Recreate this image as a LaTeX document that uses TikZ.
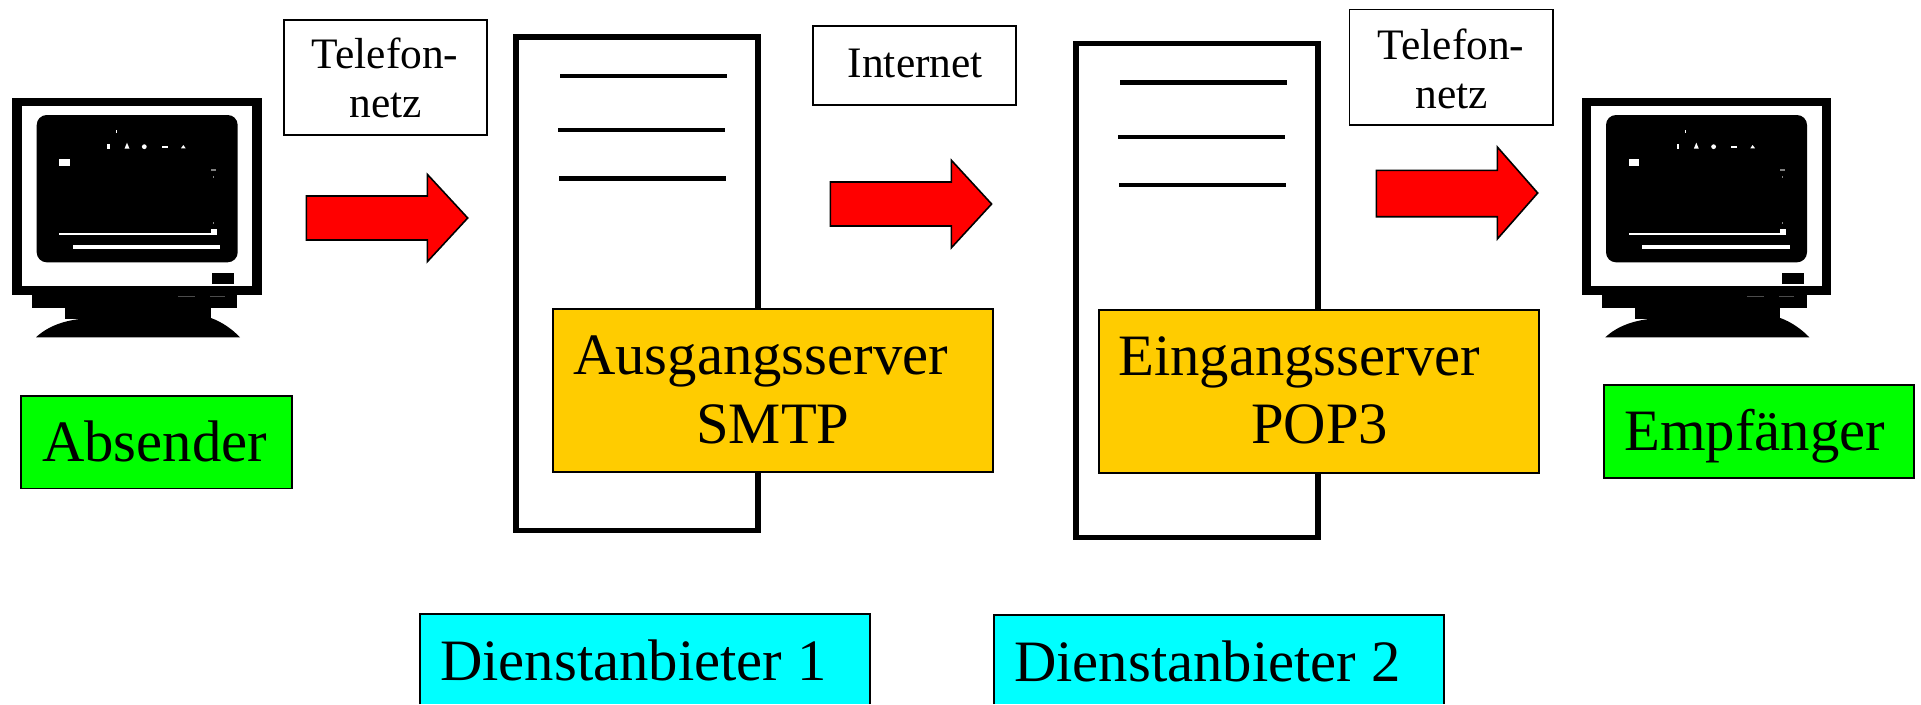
\documentclass[tikz,border=0pt]{standalone}
\usepackage{fontspec}
\setmainfont{Liberation Serif}
\definecolor{srvyellow}{HTML}{FFCC00}
\definecolor{puregreen}{HTML}{00FF00}
\definecolor{purecyan}{HTML}{00FFFF}
\definecolor{purered}{HTML}{FF0000}
\newcommand{\bigtxt}{\fontsize{44}{50}\selectfont}
\newcommand{\smalltxt}{\fontsize{32.6}{38}\selectfont}
\tikzset{
  lbl/.style={inner sep=0pt,anchor=base west,text=black},
  bigl/.style={lbl,font=\bigtxt},
  smalll/.style={lbl,font=\smalltxt},
  thinbox/.style={draw=black,line width=1.4pt,line join=miter},
  notebox/.style={thinbox,fill=white},
  yellowbox/.style={thinbox,fill=srvyellow},
  greenbox/.style={thinbox,fill=puregreen},
  cyanbox/.style={thinbox,fill=purecyan},
  redarrow/.style={draw=black,line width=1.2pt,fill=purered,line join=miter},
  server/.style={draw=black,line width=4.1pt,fill=white,line join=miter},
  serverline/.style={draw=black,line width=3.7pt},
  monitor/.pic={
    \fill[black] (12.3,98.3) rectangle (261.7,295);
    \fill[white] (21.7,106) rectangle (252.3,285.7);
    \fill[black,rounded corners=7.5pt] (36.7,115) rectangle (237.7,262.3);
    \fill[black] (212.3,273.3) rectangle (234.3,284);
    \fill[black] (32.3,295) rectangle (237.3,308.3);
    \fill[black] (65.3,308) rectangle (211,319);
    \fill[black] (36,337.3) .. controls (48,326) and (65,320) .. (85,318.5) -- (211,318) .. controls (222,322) and (232,329) .. (240,337.3) -- cycle;
    \fill[white] (59.3,233) rectangle (211,235.3);
    \fill[white] (211,228.7) rectangle (216.7,235.3);
    \fill[white] (73,245) rectangle (220.3,248.7);
    \fill[white] (59.3,159.3) rectangle (70,166.3);
    \fill[white] (107.3,144) rectangle (110,149);
    \fill[white] (127,142.7) -- (129.5,148.7) -- (124.5,148.7) -- cycle;
    \fill[white] (144.3,146.7) circle[radius=1.8pt];
    \fill[white] (162,145.7) rectangle (167.7,148);
    \fill[white] (183.3,145) -- (185.7,148.3) -- (181,148.3) -- cycle;
    \fill[white] (115.6,130.2) rectangle (116.6,133.2);
    \fill[gray] (211,169) rectangle (216,170.5);
    \fill[gray] (212.8,176) rectangle (213.8,177.5);
    \fill[gray] (212.8,222) rectangle (213.8,223.5);
    \fill[black!70] (178,295.6) rectangle (195,296.2);
    \fill[black!70] (210,295.6) rectangle (225,296.2);
  }
}
\begin{document}
\begin{tikzpicture}[x=0.75pt,y=-0.75pt]
\useasboundingbox (0,0) rectangle (1921,704);
% monitors
\pic at (0,0) {monitor};
\pic at (1569.3,0) {monitor};
% servers
\path[server] (515.8,36.8) rectangle (758.2,530.7);
\path[server] (1075.8,43.5) rectangle (1318.2,537.4);
\draw[serverline] (560.3,76) -- (727,76);
\draw[serverline] (558.3,130) -- (725,130);
\draw[serverline] (559,178.5) -- (725.7,178.5);
\draw[serverline] (1120.3,82.5) -- (1287.2,82.5);
\draw[serverline] (1118.4,137) -- (1285.1,137);
\draw[serverline] (1119.1,185) -- (1286,185);
% note boxes
\path[notebox] (284,19.8) rectangle (487,134.8);
\path[notebox] (812.8,26.2) rectangle (1015.8,105.4);
\path[notebox] (1349.5,9.5) rectangle (1552.8,124.8);
% arrows
\path[redarrow] (306.3,196) -- (427.3,196) -- (427.3,174.3) -- (467.7,218) -- (427.3,261.7) -- (427.3,240) -- (306.3,240) -- cycle;
\path[redarrow] (830.3,182) -- (951.4,182) -- (951.4,160.3) -- (991.6,204) -- (951.4,247.7) -- (951.4,226) -- (830.3,226) -- cycle;
\path[redarrow] (1376.3,170.3) -- (1497.3,170.3) -- (1497.3,147) -- (1537.7,193) -- (1497.3,239) -- (1497.3,216.7) -- (1376.3,216.7) -- cycle;
% coloured boxes
\path[yellowbox] (552.8,308.7) rectangle (993,471.8);
\path[yellowbox] (1098.6,309.7) rectangle (1538.8,472.9);
\path[greenbox] (21.2,395.8) rectangle (292,488.5);
\path[greenbox] (1603.6,384.6) rectangle (1914,477.8);
\path[cyanbox] (420,704) -- (420,614) -- (869.7,614) -- (869.7,704);
\path[cyanbox] (994,704) -- (994,615) -- (1443.7,615) -- (1443.7,704);
% texts
\node[smalll] (tel1a) at (311.5,68) {Telefon-};
\node[smalll] (tel1b) at (349.5,117) {netz};
\node[smalll] (inet) at (847.5,77) {Internet};
\node[smalll] (tel2a) at (1377.5,59) {Telefon-};
\node[smalll] (tel2b) at (1415.5,108) {netz};
\node[bigl] (ausg) at (573,374) {Ausgangsserver};
\node[bigl] (smtp) at (696,443) {SMTP};
\node[bigl] (eing) at (1118,375) {Eingangsserver};
\node[bigl] (pop) at (1251,443) {POP3};
\node[bigl] (abs) at (42,461) {Absender};
\node[bigl] (emp) at (1624,450) {Empfänger};
\node[bigl] (d1) at (440,680) {Dienstanbieter 1};
\node[bigl] (d2) at (1014,681) {Dienstanbieter 2};
\end{tikzpicture}
\end{document}
